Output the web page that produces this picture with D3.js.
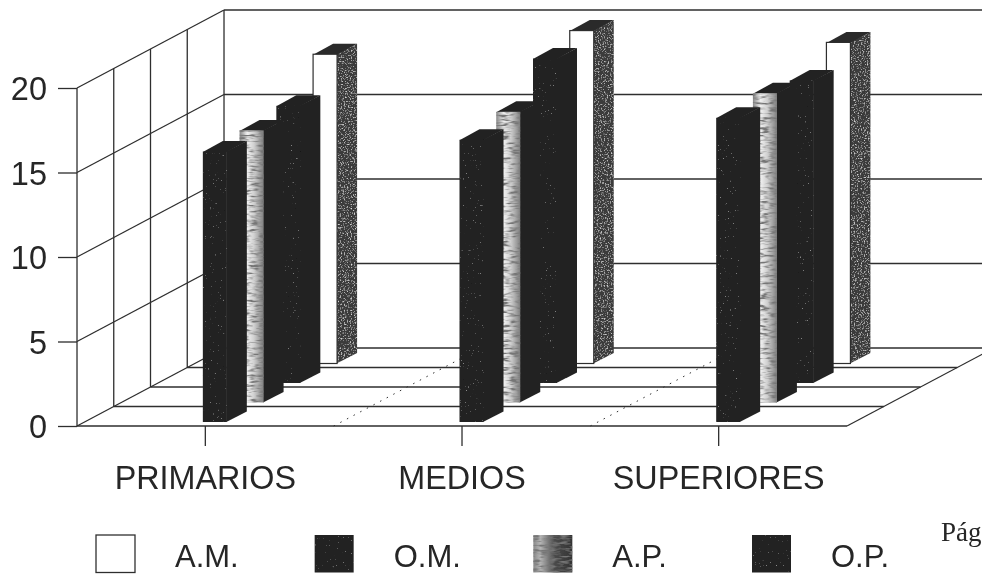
<!DOCTYPE html>
<html><head><meta charset="utf-8">
<script src="https://cdn.jsdelivr.net/npm/d3@7"></script>
<style>html,body{margin:0;background:#fff;overflow:hidden}svg{display:block}text{font-family:"Liberation Sans",Arial,sans-serif;fill:#262626}</style>
</head><body><svg id="c" width="982" height="574"></svg>
<script>
const categories = ["PRIMARIOS", "MEDIOS", "SUPERIORES"];
const legendNames = ["A.M.", "O.M.", "A.P.", "O.P."];
const depthOrder = ["O.P.", "A.P.", "O.M.", "A.M."];
const valuesAM = [18.3, 19.7, 19.0];
const valuesOM = [16.4, 19.2, 17.9];
const valuesAP = [16.1, 17.2, 18.3];
const valuesOP = [16.0, 16.7, 18.0];
const yTicks = [0, 5, 10, 15, 20];
const pageNote = "Pág";

const seriesValues = {"A.M.": valuesAM, "O.M.": valuesOM, "A.P.": valuesAP, "O.P.": valuesOP};
const W = 982, H = 574;
const floorY = 426, wallTop = 88, left = 77, right = 847;
const depthX = 147, depthY = 78;
const ink = "#2e2e2e";
const dark = "#232323";

const svg = d3.select("#c");
const defs = svg.append("defs");

function grain(id, freq, rgb, slope, offset) {
  const f = defs.append("filter").attr("id", id).attr("x", 0).attr("y", 0).attr("width", 1).attr("height", 1);
  f.append("feTurbulence").attr("type", "fractalNoise").attr("baseFrequency", freq).attr("numOctaves", 2).attr("seed", 4).attr("result", "n");
  f.append("feColorMatrix").attr("in", "n").attr("type", "matrix")
    .attr("values", `0 0 0 0 ${rgb}  0 0 0 0 ${rgb}  0 0 0 0 ${rgb}  ${slope} 0 0 0 ${offset}`).attr("result", "c");
  f.append("feComposite").attr("in", "c").attr("in2", "SourceGraphic").attr("operator", "in").attr("result", "s");
  const m = f.append("feMerge");
  m.append("feMergeNode").attr("in", "SourceGraphic");
  m.append("feMergeNode").attr("in", "s");
}
grain("speckLight", "0.7", 0.72, 3, -1.6);
grain("streakDark", "0.1 0.4", 0.18, 3.5, -1.55);
grain("speckFaint", "0.6", 0.42, 4, -2.9);

const grad = defs.append("linearGradient").attr("id", "apFace");
[[0, "#888"], [0.32, "#f0f0f0"], [0.6, "#d0d0d0"], [1, "#808080"]].forEach(([o, c]) =>
  grad.append("stop").attr("offset", o).attr("stop-color", c));
const gradL = defs.append("linearGradient").attr("id", "apLegend");
[[0, "#8a8a8a"], [0.18, "#b5b5b5"], [0.55, "#4a4a4a"], [1, "#333"]].forEach(([o, c]) =>
  gradL.append("stop").attr("offset", o).attr("stop-color", c));

const soft = defs.append("filter").attr("id", "soft");
soft.append("feGaussianBlur").attr("stdDeviation", 0.45);
const softT = defs.append("filter").attr("id", "softT");
softT.append("feGaussianBlur").attr("stdDeviation", 0.3);

const y = d3.scaleLinear().domain([0, 20]).range([floorY, wallTop]);
const x = d3.scaleBand().domain(categories).range([left, right]);
const depth = d3.scalePoint().domain(d3.range(5)).range([0, 1]);

const g = svg.append("g").attr("filter", "url(#soft)");
const clip = defs.append("clipPath").attr("id", "page");
clip.append("rect").attr("width", W).attr("height", H);
const grid = g.append("g").attr("clip-path", "url(#page)").attr("fill", "none").attr("stroke", ink).attr("stroke-width", 1.3);

// back wall and left wall grid
yTicks.forEach(t => {
  const yy = y(t);
  grid.append("line").attr("x1", left).attr("y1", yy).attr("x2", left + depthX).attr("y2", yy - depthY);
  if (t > 0) grid.append("line").attr("x1", left + depthX).attr("y1", yy - depthY).attr("x2", W).attr("y2", yy - depthY);
});
// depth rows: walls and floor
d3.range(5).forEach(i => {
  const d = depth(i), dx = d * depthX, dy = d * depthY;
  grid.append("line").attr("x1", left + dx).attr("y1", floorY - dy).attr("x2", left + dx).attr("y2", wallTop - dy);
  grid.append("line").attr("x1", left + dx).attr("y1", floorY - dy).attr("x2", Math.min(W, right + dx)).attr("y2", floorY - dy);
});
grid.append("line").attr("x1", right).attr("y1", floorY).attr("x2", right + depthX).attr("y2", floorY - depthY);
// dotted floor dividers between categories
categories.slice(1).forEach(c => {
  grid.append("line").attr("x1", x(c)).attr("y1", floorY).attr("x2", x(c) + depthX).attr("y2", floorY - depthY)
    .attr("stroke-width", 1).attr("stroke-dasharray", "1.5 6");
});

// axes: tick marks sit in the softened layer, labels above it
const yTickMarks = g.append("g").attr("transform", `translate(${left},0)`).call(d3.axisLeft(y).tickValues(yTicks).tickSize(19));
yTickMarks.select(".domain").remove();
yTickMarks.selectAll("text").remove();
yTickMarks.selectAll("line").attr("stroke", ink).attr("stroke-width", 1.3);
const ya = svg.append("g").attr("transform", `translate(${left},1.5)`).attr("filter", "url(#softT)")
  .call(d3.axisLeft(y).tickValues(yTicks).tickSize(19).tickPadding(11));
ya.select(".domain").remove();
ya.selectAll("line").remove();
ya.selectAll("text").style("font-size", "32.5px");

const xMarks = g.append("g").attr("transform", `translate(0,${floorY})`).call(d3.axisBottom(x).tickSize(20));
xMarks.select(".domain").remove();
xMarks.selectAll("text").remove();
xMarks.selectAll("line").attr("stroke", ink).attr("stroke-width", 1.3);
const xl = svg.append("g").attr("transform", `translate(0,${floorY})`).attr("filter", "url(#softT)")
  .call(d3.axisBottom(x).tickSize(20).tickPadding(20));
xl.select(".domain").remove();
xl.selectAll("line").remove();
xl.selectAll("text").style("font-size", "32.3px");

// bars, back to front
const barW = 24, barDX = 20, barDY = 10.5, inset = 2.5, floorInset = 4;
const styles = {
  "O.P.": {face: dark, side: dark, top: dark, faceF: "url(#speckFaint)"},
  "A.P.": {face: "url(#apFace)", side: dark, top: dark, faceF: "url(#streakDark)"},
  "O.M.": {face: dark, side: dark, top: dark, faceF: "url(#speckFaint)"},
  "A.M.": {face: "#fff", side: "#3a3a3a", top: "#2a2a2a", sideF: "url(#speckLight)", stroke: ink}
};
const bars = [];
depthOrder.forEach((name, row) => categories.forEach((c, ci) =>
  bars.push({name, row, c, v: seriesValues[name][ci]})));
bars.sort((a, b) => b.row - a.row || d3.ascending(categories.indexOf(a.c), categories.indexOf(b.c)));

const barG = g.append("g").attr("clip-path", "url(#page)");
const poly = pts => pts.map(p => p.join(",")).join(" ");
bars.forEach(b => {
  const s = styles[b.name], d = depth(b.row);
  const x0 = x(b.c) + x.bandwidth() / 2 - inset + d * depthX;
  const yb = floorY - floorInset - d * depthY;
  const yt = yb - (y(0) - y(b.v));
  const x1 = x0 + barW;
  barG.append("polygon").attr("points", poly([[x1 - 0.5, yb], [x1 + barDX, yb - barDY], [x1 + barDX, yt - barDY], [x1 - 0.5, yt]]))
    .attr("fill", s.side).attr("filter", s.sideF || null);
  barG.append("polygon").attr("points", poly([[x0, yt + 0.5], [x0 + barDX, yt - barDY], [x1 + barDX, yt - barDY], [x1, yt + 0.5]]))
    .attr("fill", s.top);
  barG.append("rect").attr("x", x0).attr("y", yt).attr("width", barW).attr("height", yb - yt)
    .attr("fill", s.face).attr("filter", s.faceF || null)
    .attr("stroke", s.stroke || "none").attr("stroke-width", 1.2);
});

// legend
const legendX = d3.scalePoint().domain(legendNames).range([96, 752]);
const swatch = {"A.M.": "#fff", "O.M.": dark, "A.P.": "url(#apLegend)", "O.P.": dark};
const swatchF = {"O.M.": "url(#speckFaint)", "A.P.": "url(#streakDark)", "O.P.": "url(#speckFaint)"};
legendNames.forEach(n => {
  g.append("rect").attr("x", legendX(n)).attr("y", 535).attr("width", 39).attr("height", 37.5)
    .attr("fill", swatch[n]).attr("stroke", n === "A.M." ? ink : "none").attr("stroke-width", 1.3)
    .attr("filter", swatchF[n] || null);
  svg.append("text").attr("x", legendX(n) + 79).attr("y", 567).attr("filter", "url(#softT)")
    .style("font-size", "31px").text(n);
});

svg.append("text").attr("x", 941).attr("y", 541).attr("filter", "url(#softT)")
  .style("font-family", '"Liberation Serif",serif').style("font-size", "27px").text(pageNote);
</script></body></html>
